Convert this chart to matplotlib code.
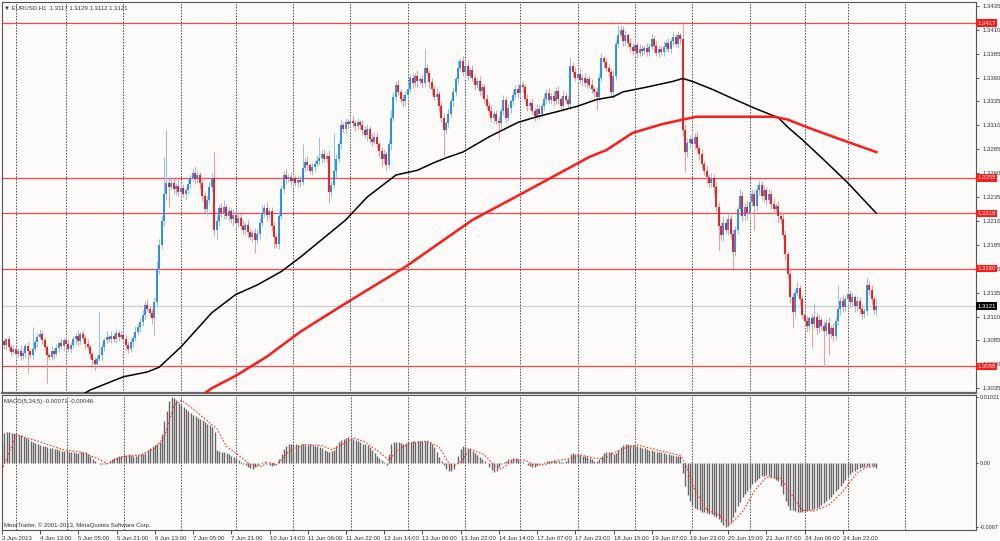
import numpy as np
import matplotlib
matplotlib.use("Agg")
import matplotlib.pyplot as plt
import matplotlib.transforms as mtransforms

# EURUSD H1 closes in pips (price * 10000), one per bar; open = previous close
first_open = 13097
closes = [
    13084, 13080, 13086, 13078, 13073, 13076, 13071, 13074, 13069, 13072,  # 0
    13079, 13074, 13070, 13076, 13083, 13089, 13092, 13085, 13078, 13070,  # 10
    13068, 13074, 13071, 13077, 13082, 13079, 13085, 13081, 13076, 13080,  # 20
    13086, 13090, 13084, 13092, 13088, 13081, 13078, 13071, 13064, 13060,  # 30
    13066, 13070, 13078, 13085, 13089, 13087, 13090, 13086, 13093, 13089,  # 40
    13091, 13086, 13080, 13076, 13083, 13088, 13094, 13099, 13104, 13112,  # 50
    13122, 13118, 13114, 13108, 13125, 13160, 13185, 13210, 13238, 13250,  # 60
    13246, 13250, 13243, 13247, 13240, 13244, 13238, 13242, 13249, 13255,  # 70
    13260, 13254, 13258, 13250, 13236, 13222, 13232, 13245, 13255, 13200,  # 80
    13210, 13224, 13218, 13225, 13215, 13220, 13212, 13216, 13208, 13213,  # 90
    13205, 13200, 13206, 13198, 13193, 13197, 13190, 13196, 13208, 13218,  # 100
    13224, 13216, 13220, 13205, 13193, 13186, 13215, 13243, 13258, 13254,  # 110
    13256, 13252, 13255, 13250, 13253, 13251, 13265, 13272, 13268, 13262,  # 120
    13266, 13270, 13273, 13276, 13280, 13275, 13278, 13240, 13248, 13262,  # 130
    13275, 13290, 13310, 13306, 13313, 13311, 13315, 13312, 13309, 13313,  # 140
    13310, 13305, 13300, 13306, 13296, 13293, 13298, 13290, 13283, 13275,  # 150
    13280, 13268, 13290, 13318, 13340, 13352, 13345, 13338, 13335, 13342,  # 160
    13348, 13360, 13354, 13362, 13356, 13358, 13354, 13370, 13365, 13355,  # 170
    13348, 13340, 13343, 13330, 13318, 13305, 13312, 13322, 13335, 13345,  # 180
    13358, 13370, 13377, 13366, 13372, 13362, 13368, 13360, 13352, 13356,  # 190
    13346, 13350, 13338, 13330, 13325, 13318, 13322, 13315, 13312, 13325,  # 200
    13336, 13318, 13328, 13335, 13342, 13348, 13344, 13352, 13350, 13338,  # 210
    13330, 13333, 13325, 13320, 13327, 13322, 13330, 13338, 13344, 13336,  # 220
    13341, 13335, 13346, 13338, 13330, 13341, 13336, 13332, 13372, 13366,  # 230
    13360, 13364, 13357, 13360, 13354, 13358, 13352, 13348, 13345, 13340,  # 240
    13360, 13380, 13376, 13370, 13366, 13345, 13362, 13395, 13405, 13410,  # 250
    13398, 13404, 13396, 13392, 13388, 13394, 13386, 13390, 13388, 13391,  # 260
    13387, 13392, 13400, 13393, 13386, 13390, 13387, 13392, 13396, 13390,  # 270
    13398, 13402, 13395, 13404, 13400, 13305, 13282, 13292, 13296, 13290,  # 280
    13298, 13286, 13280, 13270, 13262, 13256, 13250, 13255, 13245, 13225,  # 290
    13205, 13195, 13208, 13200, 13212, 13196, 13178, 13200, 13222, 13236,  # 300
    13215, 13225, 13218, 13230, 13238, 13226, 13242, 13248, 13236, 13242,  # 310
    13232, 13238, 13228, 13222, 13226, 13215, 13212, 13195, 13175, 13155,  # 320
    13130, 13115, 13135, 13140, 13128, 13112, 13105, 13100, 13108, 13102,  # 330
    13110, 13098, 13106, 13100, 13095, 13103, 13092, 13098, 13090, 13105,  # 340
    13118, 13126, 13120, 13128, 13134, 13125, 13130, 13121, 13126, 13118,  # 350
    13113, 13116, 13143, 13138, 13128, 13117, 13121,                       # 360
]

# wick lengths above / below the candle body, pips
upper_wick = [
    4, 3, 2, 5, 3, 4, 2, 3, 6, 3,
    3, 4, 2, 23, 3, 4, 5, 3, 4, 2,
    3, 5, 3, 4, 2, 6, 3, 4, 5, 3,
    4, 3, 6, 2, 4, 3, 5, 3, 2, 4,
    3, 45, 4, 3, 6, 2, 5, 3, 4, 3,
    4, 2, 5, 3, 4, 3, 6, 3, 4, 5,
    4, 6, 3, 4, 5, 8, 6, 5, 39, 55,
    6, 4, 5, 3, 6, 4, 5, 3, 6, 4,
    5, 7, 4, 3, 6, 5, 4, 6, 5, 27,
    6, 4, 5, 7, 3, 5, 4, 6, 3, 5,
    4, 6, 3, 5, 4, 3, 6, 4, 5, 9,
    4, 6, 3, 5, 4, 3, 6, 5, 4, 6,
    3, 5, 4, 3, 5, 4, 25, 4, 6, 3,
    5, 4, 6, 22, 4, 5, 3, 6, 4, 40,
    5, 4, 6, 3, 5, 4, 3, 6, 4, 5,
    3, 6, 4, 5, 3, 6, 4, 5, 3, 4,
    5, 3, 6, 8, 5, 4, 6, 3, 5, 4,
    6, 4, 5, 3, 6, 4, 5, 20, 4, 3,
    5, 4, 6, 3, 5, 4, 3, 6, 4, 5,
    4, 8, 3, 5, 4, 6, 3, 5, 4, 3,
    6, 4, 3, 5, 4, 6, 3, 4, 5, 3,
    6, 4, 5, 3, 6, 4, 5, 8, 4, 3,
    5, 4, 6, 3, 5, 4, 3, 6, 4, 5,
    3, 6, 4, 5, 3, 6, 4, 5, 9, 4,
    5, 3, 6, 4, 5, 3, 4, 6, 3, 5,
    4, 6, 3, 5, 4, 3, 6, 4, 10, 5,
    4, 6, 3, 5, 4, 6, 3, 5, 4, 3,
    5, 4, 6, 3, 5, 4, 3, 6, 4, 5,
    3, 6, 4, 5, 3, 16, 6, 5, 4, 7,
    4, 6, 3, 5, 4, 6, 3, 5, 4, 6,
    5, 4, 6, 3, 5, 4, 6, 5, 4, 7,
    5, 4, 6, 3, 5, 4, 6, 5, 4, 6,
    3, 5, 4, 6, 3, 5, 4, 6, 5, 4,
    6, 5, 4, 6, 3, 5, 4, 6, 3, 5,
    14, 4, 6, 3, 5, 4, 6, 3, 5, 4,
    25, 4, 6, 3, 5, 4, 6, 3, 5, 4,
    5, 3, 8, 4, 5, 3, 8,
]
lower_wick = [
    3, 4, 5, 3, 4, 2, 5, 3, 4, 3,
    4, 23, 3, 4, 2, 5, 3, 4, 3, 30,
    4, 3, 5, 2, 4, 3, 5, 4, 3, 4,
    3, 5, 4, 3, 4, 5, 3, 4, 5, 6,
    4, 3, 5, 4, 3, 4, 5, 3, 4, 5,
    3, 4, 5, 4, 3, 5, 4, 3, 5, 4,
    5, 3, 4, 6, 17, 5, 6, 4, 5, 6,
    21, 4, 5, 6, 4, 5, 3, 6, 4, 5,
    3, 5, 4, 6, 5, 4, 6, 3, 5, 5,
    10, 5, 4, 6, 3, 5, 4, 6, 5, 4,
    3, 5, 4, 6, 3, 5, 14, 4, 5, 3,
    4, 6, 3, 5, 11, 4, 5, 3, 4, 5,
    3, 4, 5, 3, 4, 5, 3, 4, 5, 3,
    4, 5, 3, 4, 5, 3, 4, 11, 5, 4,
    6, 4, 5, 3, 4, 5, 3, 4, 5, 3,
    4, 5, 3, 6, 4, 5, 3, 4, 6, 8,
    4, 5, 3, 6, 4, 5, 3, 4, 6, 5,
    4, 3, 5, 4, 6, 3, 5, 4, 3, 6,
    5, 4, 3, 6, 5, 27, 4, 5, 3, 6,
    4, 5, 3, 4, 6, 5, 3, 4, 5, 3,
    4, 6, 5, 3, 4, 5, 6, 4, 17, 5,
    4, 6, 3, 5, 4, 3, 5, 4, 6, 3,
    5, 4, 3, 6, 4, 5, 3, 4, 5, 3,
    4, 5, 3, 6, 4, 5, 3, 4, 5, 3,
    4, 5, 3, 6, 4, 5, 3, 4, 5, 14,
    5, 4, 6, 3, 5, 4, 6, 5, 4, 3,
    5, 4, 3, 5, 4, 3, 6, 4, 5, 3,
    4, 5, 3, 6, 4, 5, 3, 4, 5, 3,
    4, 5, 3, 4, 5, 6, 21, 5, 6, 4,
    5, 4, 6, 5, 4, 6, 5, 4, 6, 5,
    25, 5, 6, 4, 5, 6, 17, 5, 4, 6,
    5, 4, 6, 5, 4, 25, 6, 5, 4, 6,
    5, 4, 6, 5, 4, 6, 5, 4, 6, 5,
    6, 17, 5, 4, 6, 5, 4, 6, 5, 25,
    4, 6, 5, 4, 38, 5, 22, 4, 6, 5,
    4, 6, 5, 4, 6, 5, 4, 6, 5, 4,
    6, 5, 4, 6, 5, 4, 5,
]

# moving averages (bar index, pips)
black_ma_bar = [35, 37, 51, 61, 66, 75, 88, 98, 107, 117, 125, 144, 153, 165, 174,
                181, 186, 193, 204, 216, 224, 232, 241, 249, 256, 260, 270, 281, 285,
                289, 298, 305, 315, 325, 329, 335, 344, 354, 366]
black_ma = [13030, 13033, 13047, 13052, 13057, 13078, 13114, 13133, 13143, 13157,
            13172, 13211, 13235, 13258, 13263, 13271, 13276, 13282, 13298, 13313,
            13319, 13324, 13330, 13337, 13340, 13345, 13350, 13356, 13359, 13356,
            13347, 13339, 13328, 13318, 13308, 13295, 13274, 13250, 13218]
red_ma_bar = [84, 88, 98, 111, 125, 146, 169, 197, 218, 232, 246, 253, 264, 276,
              285, 291, 312, 323, 329, 337, 348, 366]
red_ma = [13028, 13035, 13048, 13068, 13094, 13127, 13162, 13211, 13239, 13258,
          13277, 13284, 13302, 13311, 13316, 13319, 13319, 13319, 13316, 13308,
          13298, 13282]

# MACD(5,34,5) histogram, units of 0.00001
macd_hist = [
    300, 470, 485, 480, 470, 460, 450, 440, 430, 410,
    390, 370, 350, 330, 310, 295, 285, 270, 260, 250,
    240, 230, 225, 215, 205, 195, 190, 185, 180, 175,
    170, 160, 165, 175, 180, 170, 150, 110, 70, 30,
    5, -10, -15, -10, 5, 30, 60, 80, 100, 110,
    120, 130, 135, 140, 135, 120, 115, 130, 140, 150,
    160, 200, 230, 260, 280, 300, 330, 450, 650, 800,
    950, 1021, 1000, 970, 930, 900, 860, 830, 800, 770,
    740, 720, 700, 680, 660, 640, 610, 580, 560, 480,
    200, 190, 180, 170, 160, 150, 120, 100, 80, 50,
    20, -10, -30, -50, -70, -80, -60, -30, 0, 20,
    30, 10, -20, -40, -30, 0, 60, 140, 220, 270,
    290, 300, 295, 290, 280, 285, 290, 280, 285, 290,
    280, 270, 260, 250, 230, 210, 190, 180, 190, 200,
    260, 320, 360, 380, 390, 400, 395, 380, 360, 340,
    320, 300, 290, 280, 250, 200, 160, 120, 80, 50,
    20, -20, 150, 300, 320, 330, 320, 310, 300, 310,
    320, 330, 335, 330, 340, 345, 350, 345, 340, 320,
    300, 250, 180, 100, 30, -30, -80, -110, -120, -90,
    0, 120, 220, 260, 250, 240, 220, 190, 160, 130,
    100, 70, 40, 10, -50, -100, -130, -110, -60, -10,
    20, 40, 60, 70, 80, 75, 60, 40, 20, 0,
    -20, -40, -60, -50, -30, -10, 10, 20, 30, 35,
    40, 45, 40, 30, 20, 25, 30, 60, 150, 160,
    150, 140, 130, 120, 110, 100, 80, 60, 40, 30,
    60, 120, 160, 170, 180, 170, 150, 160, 200, 250,
    280, 300, 290, 285, 280, 270, 260, 250, 240, 230,
    220, 210, 200, 190, 180, 175, 170, 160, 150, 140,
    130, 125, 120, 115, 110, -150, -350, -480, -580, -640,
    -680, -700, -720, -740, -750, -760, -770, -780, -800, -820,
    -860, -900, -940, -970, -960, -900, -820, -740, -660, -590,
    -520, -470, -420, -370, -320, -280, -250, -220, -200, -190,
    -185, -190, -210, -230, -250, -270, -350, -470, -580, -660,
    -710, -720, -730, -740, -745, -740, -735, -730, -720, -710,
    -700, -690, -670, -640, -610, -580, -550, -510, -470, -430,
    -390, -350, -300, -250, -200, -160, -130, -110, -90, -70,
    -60, -50, -40, -40, -30, -40, -71,
]
signal_bar = [0, 6, 15, 25, 33, 40, 44, 50, 58, 64, 68, 72, 75, 78, 85, 90, 94, 98,
              104, 108, 112, 115, 120, 126, 134, 138, 143, 147, 152, 158, 162, 166,
              172, 178, 183, 188, 192, 196, 202, 206, 209, 214, 219, 223, 227, 232,
              239, 242, 248, 252, 256, 261, 266, 284, 286, 290, 295, 300, 305, 310,
              315, 320, 326, 330, 335, 340, 346, 352, 358, 362, 366]
signal = [-100, 440, 340, 215, 170, 75, -5, 100, 130, 230, 410, 884, 968, 890, 680,
          530, 260, 150, -20, -50, 10, -20, 180, 290, 270, 210, 300, 390, 330, 170,
          50, 220, 320, 340, 250, -60, 20, 220, 130, -30, -90, 50, 50, -30, -20, 40,
          80, 130, 80, 70, 160, 240, 280, 120, 0, -410, -710, -790, -930, -740,
          -420, -210, -230, -450, -720, -730, -640, -430, -140, -60, -46]

sr_levels = [1.3417, 1.3255, 1.3218, 1.3160, 1.3058]
bid_level = 1.3121
day_grid_bars = [6, 27, 51, 75, 98, 122, 146, 170, 194, 217, 241, 265, 289, 313, 336, 354, 378]
time_labels = ["3 Jun 2013", "4 Jun 13:00", "5 Jun 05:00", "5 Jun 21:00", "6 Jun 13:00",
               "7 Jun 05:00", "7 Jun 21:00", "10 Jun 14:00", "11 Jun 06:00", "11 Jun 22:00",
               "12 Jun 14:00", "13 Jun 06:00", "13 Jun 22:00", "14 Jun 14:00", "17 Jun 07:00",
               "17 Jun 23:00", "18 Jun 15:00", "19 Jun 07:00", "19 Jun 23:00", "20 Jun 15:00",
               "21 Jun 07:00", "24 Jun 06:00", "24 Jun 22:00"]
time_label_bars = [16 * k for k in range(len(time_labels))]

n = len(closes)
assert len(upper_wick) == n and len(lower_wick) == n and len(macd_hist) == n, \
    (n, len(upper_wick), len(lower_wick), len(macd_hist))

plt.rcParams['font.family'] = ['Liberation Sans', 'DejaVu Sans']

c = np.array(closes) / 10000
o = np.concatenate([[first_open / 10000], c[:-1]])
body_lo = np.minimum(o, c)
body_hi = np.maximum(o, c)
hi = body_hi + np.array(upper_wick) / 10000
lo = body_lo - np.array(lower_wick) / 10000
body_hi = np.maximum(body_hi, body_lo + 0.00004)
bars = np.arange(n)
up = c >= o

W, H = 1000, 541
bg = '#fdfafa'
txt = '#333333'
fs = 4.3
fig = plt.figure(figsize=(W / 100, H / 100), dpi=100)
fig.patch.set_facecolor(bg)


def px_box(l, t, r, b):
    return [l / W, 1 - b / H, (r - l) / W, (b - t) / H]


ax = fig.add_axes(px_box(2, 2, 976, 393))
axm = fig.add_axes(px_box(2, 395, 976, 530))
for a in (ax, axm):
    a.set_facecolor(bg)
    a.set_xlim(0.21, 407.7)
    for s in a.spines.values():
        s.set_color('#555555')
        s.set_linewidth(0.8)
    for g in day_grid_bars:
        a.axvline(g, color='#4a4a4a', lw=0.7, ls=(0, (1.5, 1.5)), zorder=0)
ax.spines['bottom'].set_linewidth(1.6)
ax.spines['bottom'].set_color('#666666')

# price panel
ax.set_ylim(1.3030, 1.3439)
for lvl in sr_levels:
    ax.axhline(lvl, color='#ff4545', lw=0.9, zorder=1)
ax.axhline(bid_level, color='#cccccc', lw=0.9, zorder=1)

ax.vlines(bars[up], lo[up], hi[up], color='#8cc2f5', lw=0.7, zorder=2)
ax.vlines(bars[~up], lo[~up], hi[~up], color='#f59696', lw=0.7, zorder=2)
ax.vlines(bars[up], body_lo[up], body_hi[up], color='#1e88f0', lw=1.3, zorder=3)
ax.vlines(bars[~up], body_lo[~up], body_hi[~up], color='#f01010', lw=1.3, zorder=3)

ax.plot(black_ma_bar, np.array(black_ma) / 10000, color='black', lw=1.1, zorder=4)
ax.plot(red_ma_bar, np.array(red_ma) / 10000, color='#ff1a1a', lw=1.8, zorder=4)

ax.yaxis.tick_right()
price_ticks = [round(1.3035 + 0.0025 * k, 4) for k in range(17)]
ax.set_yticks(price_ticks)
ax.set_yticklabels([f'{t:.4f}' for t in price_ticks])
ax.tick_params(axis='y', labelsize=fs, length=2.5, width=0.6, pad=2, colors=txt)
ax.tick_params(axis='x', bottom=False, labelbottom=False)

tr = mtransforms.blended_transform_factory(ax.transAxes, ax.transData)
for lvl in sr_levels:
    ax.text(1.0015, lvl, f'{lvl:.4f}', transform=tr, fontsize=fs, color='white',
            va='center', ha='left', zorder=6,
            bbox=dict(boxstyle='square,pad=0.2', fc='#ff1a1a', ec='none'))
ax.text(1.0015, bid_level, f'{bid_level:.4f}', transform=tr, fontsize=fs, color='white',
        va='center', ha='left', zorder=6,
        bbox=dict(boxstyle='square,pad=0.2', fc='black', ec='none'))

# MACD panel
axm.set_ylim(-0.01021, 0.01047)
axm.vlines(bars, 0, np.array(macd_hist) / 1e5, color='#666666', lw=1.0, zorder=2)
axm.plot(signal_bar, np.array(signal) / 1e5, color='#ff3030', lw=0.8,
         ls=(0, (1.5, 1.5)), zorder=3)
axm.yaxis.tick_right()
axm.set_yticks([0.01021, 0.0, -0.0097])
axm.set_yticklabels(['0.01021', '0.00', '-0.0097'])
axm.tick_params(axis='y', labelsize=4.0, length=1.5, width=0.6, pad=1, colors=txt)
axm.set_xticks(time_label_bars)
axm.set_xticklabels(time_labels, ha='left')
axm.tick_params(axis='x', labelsize=fs, length=3, width=0.6, pad=1.5, colors=txt)

fig.text(4 / W, 1 - 8 / H, '\u25bc EURUSD,H1  1.3117 1.3129 1.3112 1.3121',
         fontsize=fs, color=txt, va='center', ha='left')
fig.text(4 / W, 1 - 401 / H, 'MACD(5,34,5) -0.00071 -0.00046',
         fontsize=fs, color=txt, va='center', ha='left')
fig.text(4 / W, 1 - 525 / H, 'MetaTrader, \u00a9 2001-2013, MetaQuotes Software Corp.',
         fontsize=fs, color=txt, va='center', ha='left')

fig.savefig('out.png', dpi=100, facecolor=bg)
